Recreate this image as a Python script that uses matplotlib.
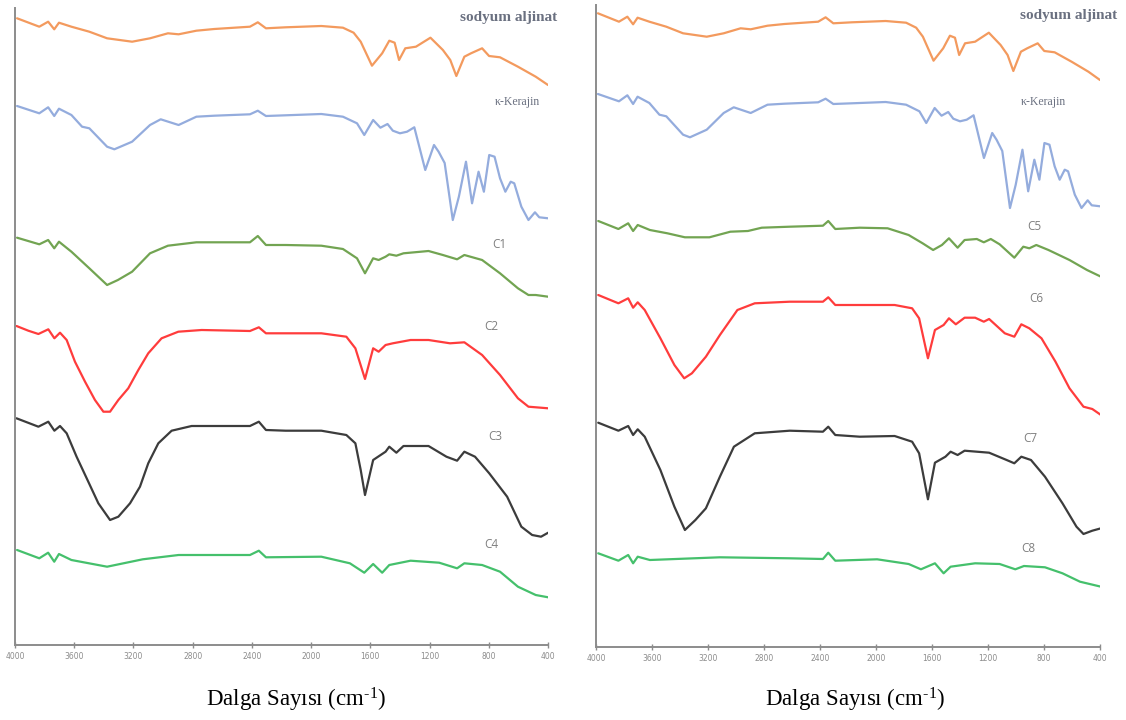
import numpy as np
import matplotlib
matplotlib.use("Agg")
import matplotlib.pyplot as plt

plt.rcParams['mathtext.fontset'] = 'custom'
plt.rcParams['mathtext.rm'] = 'Liberation Serif'
plt.rcParams['mathtext.it'] = 'Liberation Serif:italic'
plt.rcParams['mathtext.bf'] = 'Liberation Serif:bold'

# ---------------- data (wavenumber, relative transmittance, a.u.) ----------------
alg_wn = [3986, 3836, 3776, 3735, 3703, 3619, 3498, 3378, 3209, 3088, 2967, 2895, 2775, 2654,
          2413, 2360, 2305, 2172, 1931, 1785, 1713, 1665, 1589, 1520, 1472, 1436, 1406, 1364,
          1292, 1194, 1110, 1060, 1019, 965, 920, 845, 798, 724, 603, 483, 400]
alg_t = [631.7, 623.3, 628.3, 620.7, 627.3, 623.3, 618.3, 611.7, 608.3, 611.7, 616.7, 615.7, 619.3, 621,
         623.3, 627.7, 621.7, 622.7, 624, 622.3, 617.3, 608.3, 584.3, 596.7, 609.3, 607.3, 590, 601.7,
         603.3, 612.3, 600, 590, 574, 593.3, 596.7, 601.7, 594, 592.7, 583.3, 573.3, 565]

kar_wn = [3986, 3836, 3776, 3735, 3703, 3619, 3547, 3498, 3378, 3329, 3209, 3088, 3016, 2895,
          2775, 2654, 2413, 2360, 2305, 2172, 1931, 1785, 1690, 1641, 1581, 1532, 1484, 1448,
          1400, 1352, 1303, 1229, 1170, 1139, 1098, 1043, 1002, 954, 913, 869, 833, 797, 761,
          724, 688, 652, 628, 580, 532, 488, 459, 399]
kar_t = [544, 536.7, 542.7, 534, 541.3, 535, 523.3, 521.7, 503.3, 500.7, 508.3, 525, 530.7, 525,
         533.3, 534.3, 535.7, 539.3, 534, 534.7, 536, 533.3, 526.7, 515, 530, 522.3, 526, 519.3,
         516.7, 518.3, 522.7, 480, 505, 498.3, 487, 430, 453.3, 488.3, 446.7, 478.3, 458.3, 495, 493.3,
         471.7, 458.3, 468.3, 466.7, 443.3, 430, 437.7, 432.7, 431.7]

c1_wn = [3986, 3836, 3776, 3735, 3703, 3619, 3498, 3378, 3305, 3209, 3088, 2967, 2775, 2413,
         2360, 2305, 2172, 1931, 1785, 1690, 1636, 1581, 1544, 1497, 1472, 1424, 1376, 1207,
         1110, 1014, 965, 845, 724, 603, 532, 483, 399]
c1_t = [412.3, 405.7, 410, 401.7, 408.3, 398.3, 381.7, 365, 370, 378.3, 396.7, 404.3, 407.7, 407.7,
        414, 405, 405, 404.3, 401, 391.7, 376.7, 391.7, 390, 393.3, 395.7, 394.3, 396.7, 399,
        395, 390.7, 395, 390, 376.7, 361.7, 355, 355, 353.3]

c2_wn = [3990, 3910, 3842, 3775, 3734, 3696, 3651, 3595, 3527, 3460, 3403, 3358, 3302, 3235,
         3167, 3100, 3010, 2897, 2739, 2413, 2353, 2305, 2172, 1931, 1762, 1701, 1636, 1581,
         1544, 1497, 1448, 1328, 1207, 1062, 965, 845, 724, 603, 532, 399]
c2_t = [324, 319.3, 316, 320.7, 311.7, 317.3, 310, 288.3, 268.3, 250, 238.3, 238.3, 250, 261.7,
        280, 296.7, 311.7, 318.3, 320, 319, 322.7, 316.7, 316.7, 316.7, 313.3, 301.7, 271, 301.7,
        298.3, 305, 306.7, 310, 310, 306.7, 307.7, 295, 275, 251.7, 243.3, 241.7]

c3_wn = [3990, 3842, 3775, 3734, 3696, 3651, 3584, 3505, 3437, 3358, 3302, 3223, 3156, 3100,
         3032, 2942, 2807, 2413, 2353, 2305, 2172, 1931, 1762, 1701, 1665, 1636, 1581, 1497,
         1472, 1424, 1376, 1207, 1086, 1014, 965, 893, 797, 676, 580, 507, 447, 399]
c3_t = [231.7, 223.3, 228.3, 219.3, 224, 216.7, 193.3, 168.3, 146.7, 130, 133.3, 146.7, 163.3, 186.7,
        206.7, 219.3, 224, 224, 228.3, 220, 219.3, 219.3, 215, 206.7, 180, 155, 190, 198.3,
        203.3, 197.3, 204, 204, 193.3, 189.3, 198.3, 193.3, 176.7, 153.3, 123.3, 115, 113.3, 117.3]

c4_wn = [3986, 3836, 3776, 3735, 3703, 3619, 3378, 3137, 2895, 2413, 2353, 2305, 1931, 1738,
         1641, 1581, 1520, 1472, 1328, 1135, 1014, 965, 845, 724, 603, 483, 399]
c4_t = [100, 91.7, 97.3, 88.3, 96, 90, 83.3, 90.7, 95, 95, 99.3, 92.7, 93.3, 86.7,
        77.3, 86, 77.3, 85, 89.3, 87.3, 81.7, 86.7, 85, 78.3, 63.3, 55, 52.7]

c5_wn = [3984, 3840, 3770, 3735, 3702, 3615, 3490, 3365, 3190, 3040, 2915, 2816, 2616, 2379,
         2341, 2291, 2116, 1917, 1767, 1667, 1592, 1529, 1479, 1417, 1367, 1280, 1230, 1180,
         1117, 1012, 948, 905, 855, 768, 618, 493, 393]
c5_t = [429, 421, 426.7, 419, 425, 420, 416.7, 412.7, 412.7, 418.3, 419, 422.3, 423.3, 424.3,
        429, 421, 422.3, 421.7, 415, 406.7, 400, 405, 411.7, 402.3, 410, 411, 407.7, 411,
        405.7, 392.3, 403.3, 401.7, 405, 400, 390, 380, 373.3]

c6_wn = [3984, 3840, 3770, 3735, 3702, 3652, 3540, 3440, 3370, 3315, 3215, 3115, 2990, 2866,
         2616, 2379, 2341, 2291, 2116, 1867, 1742, 1692, 1629, 1579, 1517, 1479, 1430, 1367,
         1292, 1230, 1192, 1080, 1012, 962, 905, 818, 718, 618, 518, 455, 393]
c6_t = [355, 346.7, 351.7, 342.3, 347.7, 340, 311.7, 285, 271.7, 276.7, 293.3, 315, 340, 346.7,
        348.3, 348.3, 352.7, 345, 345, 345, 341.7, 331.7, 291.7, 320, 325, 331.7, 325.7, 332.3,
        332.3, 328.3, 331, 316.7, 313.3, 325.7, 321.7, 311.7, 288.3, 261.7, 243.3, 241, 235]

c7_wn = [3984, 3840, 3770, 3735, 3702, 3652, 3540, 3440, 3365, 3290, 3215, 3115, 3015, 2866,
         2616, 2379, 2341, 2291, 2116, 1867, 1742, 1692, 1629, 1579, 1504, 1467, 1417, 1367,
         1192, 1067, 1012, 962, 893, 793, 668, 568, 518, 455, 393]
c7_t = [227.3, 219.3, 224, 215, 220.7, 213.3, 180, 143.3, 120, 130, 141.7, 173.3, 203.3, 216.7,
        219.3, 218.3, 223.3, 215, 213.3, 214, 208.3, 196.7, 150.7, 187.3, 193.3, 198.3, 195, 199.3,
        197.3, 190, 186.7, 193.3, 190, 173.3, 146.7, 123.3, 116, 119.3, 121.7]

c8_wn = [3984, 3840, 3770, 3735, 3702, 3615, 3115, 2616, 2379, 2341, 2291, 1992, 1767, 1679,
         1579, 1517, 1467, 1292, 1117, 1005, 943, 793, 668, 543, 393]
c8_t = [96.7, 89.3, 95, 86.7, 93.3, 90, 92.7, 91.7, 91, 97.3, 89.3, 90.7, 86, 80.7,
        86.7, 76.7, 83.3, 86.7, 86, 80.7, 84, 82.7, 76.7, 68.3, 63.3]

x_ticks = [4000, 3600, 3200, 2800, 2400, 2000, 1600, 1200, 800, 400]

# ---------------- styles ----------------
COL_ALG = '#F39A5E'
COL_KAR = '#94ACDD'
COL_C1 = '#72A452'
COL_RED = '#FF3C3C'
COL_BLK = '#3C3C3C'
COL_C4 = '#45C06C'
LBL = '#6A7080'
SERIF = ['Liberation Serif', 'DejaVu Serif']
SANS = ['Open Sans', 'DejaVu Sans']

fig = plt.figure(figsize=(11.26, 7.2), dpi=100)
axL = fig.add_axes([15/1126, 75/720, 533/1126, 637/720])
axR = fig.add_axes([596/1126, 73/720, 504/1126, 642/720])

# right panel vertical shifts for the two reference spectra
alg_shift_R = 5
kar_shift_R = 12

kw = dict(lw=1.6, solid_joinstyle='round', solid_capstyle='round')
axL.plot(alg_wn, alg_t, color=COL_ALG, **kw)
axL.plot(kar_wn, kar_t, color=COL_KAR, **kw)
axL.plot(c1_wn, c1_t, color=COL_C1, **kw)
axL.plot(c2_wn, c2_t, color=COL_RED, **kw)
axL.plot(c3_wn, c3_t, color=COL_BLK, **kw)
axL.plot(c4_wn, c4_t, color=COL_C4, **kw)

axR.plot(alg_wn, np.array(alg_t) + alg_shift_R, color=COL_ALG, **kw)
axR.plot(kar_wn, np.array(kar_t) + kar_shift_R, color=COL_KAR, **kw)
axR.plot(c5_wn, c5_t, color=COL_C1, **kw)
axR.plot(c6_wn, c6_t, color=COL_RED, **kw)
axR.plot(c7_wn, c7_t, color=COL_BLK, **kw)
axR.plot(c8_wn, c8_t, color=COL_C4, **kw)

for ax, ylim in ((axL, (5, 642)), (axR, (3, 645))):
    ax.set_xlim(4000, 400)
    ax.set_ylim(*ylim)
    ax.set_xticks(x_ticks)
    ax.set_xticklabels([str(v) for v in x_ticks])
    ax.tick_params(axis='x', direction='inout', length=4, width=1, colors='#8C8C8C',
                   labelsize=5.5, labelcolor='#8C8C8C', pad=3)
    ax.set_yticks([])
    for s in ('top', 'right'):
        ax.spines[s].set_visible(False)
    for s in ('left', 'bottom'):
        ax.spines[s].set_color('#8C8C8C')
        ax.spines[s].set_linewidth(1.4)
    ax.patch.set_alpha(0)

# labels - left
axL.text(339, 632, 'sodyum aljinat', ha='right', va='center', family=SERIF,
         fontweight='bold', fontsize=11, color=LBL, clip_on=False)
axL.text(609, 548, 'κ-Kerajin', ha='center', va='center', family=SERIF,
         fontsize=8.5, color=LBL, clip_on=False)
for name, wn, h in (('C1', 731, 406), ('C2', 785, 324), ('C3', 758, 213), ('C4', 785, 105)):
    axL.text(wn, h, name, ha='center', va='center', family=SANS, fontsize=8.5,
             color='#7F7F7F', clip_on=False)

# labels - right
axR.text(278, 634, 'sodyum aljinat', ha='right', va='center', family=SERIF,
         fontweight='bold', fontsize=11, color=LBL, clip_on=False)
axR.text(807, 548, 'κ-Kerajin', ha='center', va='center', family=SERIF,
         fontsize=8.5, color=LBL, clip_on=False)
for name, wn, h in (('C5', 871, 424), ('C6', 857, 352), ('C7', 900, 212), ('C8', 914, 102)):
    axR.text(wn, h, name, ha='center', va='center', family=SANS, fontsize=8.5,
             color='#7F7F7F', clip_on=False)

xlab = 'Dalga Sayısı (cm$^{\\mathrm{\u2010}1}$)'
fig.text(296/1126, 1 - 700/720, xlab, ha='center', va='center', family=SERIF,
         fontsize=16.5, color='black')
fig.text(855/1126, 1 - 700/720, xlab, ha='center', va='center', family=SERIF,
         fontsize=16.5, color='black')

fig.savefig('out.png', dpi=100, facecolor='white')
